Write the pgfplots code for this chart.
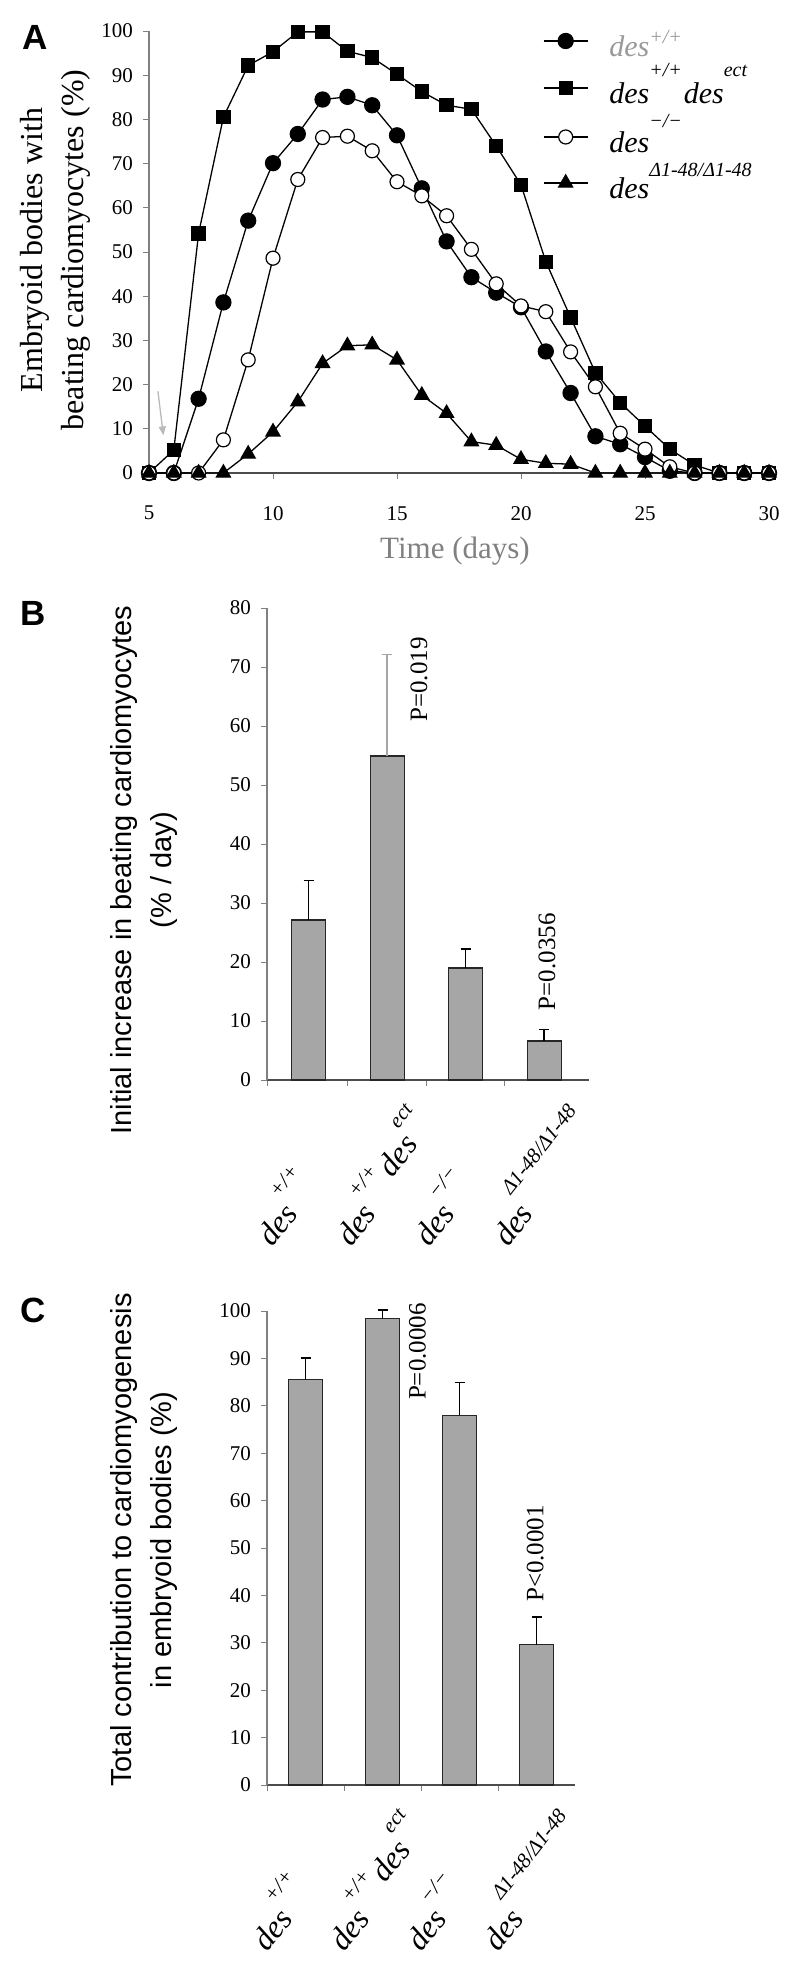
\documentclass[border=0pt]{standalone}
\usepackage{fontspec}
\setmainfont{Liberation Serif}
\newfontfamily\arialfont{Liberation Sans}
\usepackage{pgfplots}
\pgfplotsset{compat=1.18}
\usetikzlibrary{arrows.meta}

\definecolor{axgray}{gray}{0.5}
\definecolor{axdark}{gray}{0.3}
\definecolor{bargray}{gray}{0.65}
\definecolor{leggray}{gray}{0.6}

\newcommand{\fs}[1]{\fontsize{#1}{#1}\selectfont}
\newcommand{\sups}[2]{\raisebox{#1}{\fs{21}\itshape #2}}
\newcommand{\lsup}[2]{\raisebox{#1}{\fs{20}\itshape #2}}

\tikzset{catlab/.style={rotate=52, anchor=base west, inner sep=0pt, font=\fs{32}\itshape}}

\pgfplotsset{
 mystyle/.style={
  scale only axis,
  axis x line*=bottom, axis y line*=left,
  tick align=outside,
  major tick length=6pt,
  tick style={line width=1pt, axgray},
  axis line style={line width=1.5pt},
  y axis line style={axgray},
  x axis line style={axdark},
  /pgf/number format/assume math mode=true,
  ticklabel style={font=\fs{21}},
  clip=false,
 },
 Abox/.style={at={(149pt,-473pt)}, anchor=south west, scale only axis,
  width=620pt, height=442pt, xmin=5, xmax=30, ymin=0, ymax=100},
 legrow/.style={Abox, hide axis,
  legend style={at={(axis description cs:0.6355,#1)}, anchor=west,
    draw=none, fill=none, inner sep=0pt, outer sep=0pt,
    nodes={inner sep=0pt}, font=\fs{30}\itshape,
    /tikz/every odd column/.append style={column sep=21pt}},
  legend cell align=left,
  legend image code/.code={%
    \draw[mark repeat=2,mark phase=2,##1] plot coordinates {(0pt,0pt) (22pt,0pt) (44pt,0pt)};}},
 barstyle/.style={ybar, bar shift=0pt, bar width=34pt, fill=bargray, draw=black!85, line width=1.3pt,
   error bars/.cd, y dir=plus, y explicit,
   error mark=-,
   error bar style={line width=1.5pt, #1},
   error mark options={rotate=90, line width=1.5pt, mark size=5pt, #1}},
}

\begin{document}
\begin{tikzpicture}
\useasboundingbox (0pt,0pt) rectangle (800pt,-1978pt);

% ---------------- Panel A ----------------
\begin{axis}[mystyle, Abox,
  xtick={5,10,...,30}, ytick={0,10,...,100},
  yticklabel style={inner sep=0pt, xshift=-10pt},
  xticklabel style={inner sep=0pt, yshift=-27pt},
]
\addplot[black, line width=1.3pt, mark=*, mark size=7.5pt, mark options={fill=black, solid}] coordinates {
(5,0) (6,0) (7,16.8) (8,38.6) (9,57.1) (10,70.1) (11,76.7) (12,84.5) (13,85.1) (14,83.2) (15,76.4) (16,64.4) (17,52.4) (18,44.3) (19,40.8) (20,37.5) (21,27.5) (22,18.1) (23,8.3) (24,6.5) (25,3.6) (26,0.5) (27,0) (28,0) (29,0) (30,0)};

\addplot[black, line width=1.3pt, mark=square*, mark size=6.5pt, mark options={fill=black, solid}] coordinates {
(5,0) (6,5.2) (7,54.2) (8,80.5) (9,92.2) (10,95.3) (11,99.8) (12,99.8) (13,95.4) (14,94) (15,90.2) (16,86.3) (17,83.2) (18,82.3) (19,74) (20,65.2) (21,47.8) (22,35.2) (23,22.7) (24,15.9) (25,10.6) (26,5.4) (27,1.8) (28,0) (29,0) (30,0)};

\addplot[black, line width=1.3pt, mark=*, mark size=7pt, mark options={fill=white, draw=black, line width=1.2pt, solid}] coordinates {
(5,0) (6,0) (7,0) (8,7.5) (9,25.6) (10,48.6) (11,66.4) (12,75.9) (13,76.2) (14,72.9) (15,65.9) (16,62.7) (17,58.2) (18,50.6) (19,42.8) (20,37.8) (21,36.5) (22,27.4) (23,19.5) (24,9.0) (25,5.4) (26,1.4) (27,0) (28,0) (29,0) (30,0)};

\addplot[black, line width=1.3pt, mark=triangle*, mark size=8pt, mark options={fill=black, solid}] coordinates {
(5,0) (6,0) (7,0) (8,0) (9,4.3) (10,9.3) (11,16.1) (12,24.8) (13,28.8) (14,29) (15,25.6) (16,17.6) (17,13.5) (18,7.1) (19,6.3) (20,3.1) (21,2.2) (22,2.0) (23,0) (24,0) (25,0) (26,0) (27,0) (28,0) (29,0) (30,0)};

\draw[gray!55, line width=1.3pt, -{Triangle[length=9pt,width=7pt]}] (axis cs:5.36,18.5) -- (axis cs:5.58,8.5);
\end{axis}

% legend rows (one per series)
\begin{axis}[legrow=0.9774]
\addlegendimage{black, line width=1.3pt, mark=*, mark size=7.5pt, mark options={fill=black, solid}}
\addlegendentry{\raisebox{0pt}[32pt][16pt]{\textcolor{leggray}{des\lsup{13pt}{+/+}}}}
\end{axis}
\begin{axis}[legrow=0.8710]
\addlegendimage{black, line width=1.3pt, mark=square*, mark size=6.5pt, mark options={fill=black, solid}}
\addlegendentry{\raisebox{0pt}[32pt][16pt]{des\lsup{27pt}{+/+}\hspace{2pt}des\lsup{27pt}{ect}}}
\end{axis}
\begin{axis}[legrow=0.7602]
\addlegendimage{black, line width=1.3pt, mark=*, mark size=7pt, mark options={fill=white, draw=black, line width=1.2pt, solid}}
\addlegendentry{\raisebox{0pt}[32pt][16pt]{des\lsup{25pt}{−/−}}}
\end{axis}
\begin{axis}[legrow=0.6561]
\addlegendimage{black, line width=1.3pt, mark=triangle*, mark size=8pt, mark options={fill=black, solid}}
\addlegendentry{\raisebox{0pt}[32pt][16pt]{des\lsup{22pt}{Δ1-48/Δ1-48}}}
\end{axis}

\node[rotate=90, align=center, font=\fontsize{32}{41}\selectfont] at (55pt,-250pt) {Embryoid bodies with\\beating cardiomyocytes (\%)};
\node[anchor=base, font=\fs{31}, text=axgray] at (455pt,-558pt) {Time (days)};
\node[font=\arialfont\bfseries\fs{35}] at (35pt,-37pt) {A};

% ---------------- Panel B ----------------
\begin{axis}[mystyle,
  at={(267pt,-1080pt)}, anchor=south west,
  width=322pt, height=472pt,
  xmin=-0.53, xmax=3.57, ymin=0, ymax=80,
  xtick={-0.53,0.5,1.5,2.5}, xticklabels={},
  ytick={0,10,...,80},
  yticklabel style={inner sep=0pt, xshift=-10pt},
]
\addplot[barstyle=black] coordinates {(0,27.1) +- (0,6.7) (2,19.0) +- (0,3.2) (3,6.6) +- (0,2.0)};
\addplot[barstyle=gray!70] coordinates {(1,54.9) +- (0,17.2)};
\node[rotate=90, anchor=base west, inner sep=0pt, font=\fs{25}] at (axis cs:1.51,60.7) {P=0.019};
\node[rotate=90, anchor=base west, inner sep=0pt, font=\fs{25}] at (axis cs:3.14,11.8) {P=0.0356};
\path (axis cs:0,0) ++(-36pt,-168pt) node[catlab] {des\sups{26pt}{+/+}};
\path (axis cs:1,0) ++(-36pt,-168pt) node[catlab] {des\sups{26pt}{+/+}\hspace{3pt}\raisebox{10pt}{des\sups{26pt}{ect}}};
\path (axis cs:2,0) ++(-36pt,-168pt) node[catlab] {des\sups{24pt}{−/−}};
\path (axis cs:3,0) ++(-36pt,-168pt) node[catlab] {des\sups{30pt}{Δ1-48/Δ1-48}};
\end{axis}
\node[rotate=90, align=center, font=\arialfont\fontsize{29}{40}\selectfont] at (144pt,-870pt) {Initial increase in beating cardiomyocytes\\(\% / day)};
\node[font=\arialfont\bfseries\fs{35}] at (33pt,-613pt) {B};

% ---------------- Panel C ----------------
\begin{axis}[mystyle,
  at={(267pt,-1785pt)}, anchor=south west,
  width=308pt, height=474pt,
  xmin=-0.5, xmax=3.5, ymin=0, ymax=100,
  xtick={-0.5,0.5,1.5,2.5}, xticklabels={},
  ytick={0,10,...,100},
  yticklabel style={inner sep=0pt, xshift=-10pt},
]
\addplot[barstyle=black] coordinates {(0,85.5) +- (0,4.6) (1,98.4) +- (0,1.8) (2,78.0) +- (0,6.9) (3,29.6) +- (0,5.9)};
\node[rotate=90, anchor=base west, inner sep=0pt, font=\fs{25}] at (axis cs:1.56,81.2) {P=0.0006};
\node[rotate=90, anchor=base west, inner sep=0pt, font=\fs{25}] at (axis cs:3.09,38.6) {P<0.0001};
\path (axis cs:0,0) ++(-38pt,-168pt) node[catlab] {des\sups{26pt}{+/+}};
\path (axis cs:1,0) ++(-38pt,-168pt) node[catlab] {des\sups{26pt}{+/+}\hspace{3pt}\raisebox{10pt}{des\sups{26pt}{ect}}};
\path (axis cs:2,0) ++(-38pt,-168pt) node[catlab] {des\sups{24pt}{−/−}};
\path (axis cs:3,0) ++(-38pt,-168pt) node[catlab] {des\sups{30pt}{Δ1-48/Δ1-48}};
\end{axis}
\node[rotate=90, align=center, font=\arialfont\fontsize{29}{40}\selectfont] at (144pt,-1540pt) {Total contribution to cardiomyogenesis\\in embryoid bodies (\%)};
\node[font=\arialfont\bfseries\fs{35}] at (33pt,-1310pt) {C};
\end{tikzpicture}
\end{document}
